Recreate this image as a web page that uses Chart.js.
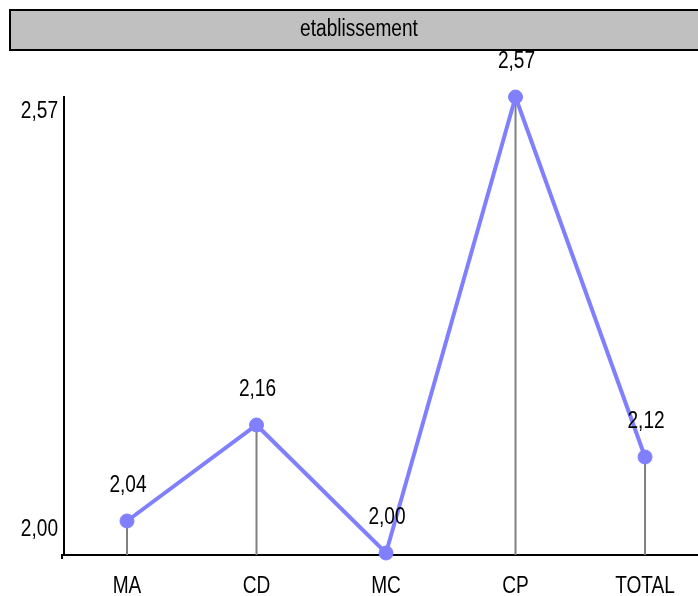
<!DOCTYPE html>
<html>
<head>
<meta charset="utf-8">
<script src="https://cdn.jsdelivr.net/npm/chart.js@4/dist/chart.umd.min.js"></script>
<style>
  html, body { margin: 0; padding: 0; background: #ffffff; }
  #wrap { width: 698px; height: 596px; position: relative; }
</style>
</head>
<body>
<div id="wrap"><canvas id="c" width="698" height="596"></canvas></div>
<script>
const titleText = "etablissement";
const categories = ["MA", "CD", "MC", "CP", "TOTAL"];
const values = [2.04, 2.16, 2.00, 2.57, 2.12];
const yTickValues = [2.00, 2.57];

const FONT = "23px 'Liberation Sans', Arial, sans-serif";
const SQUEEZE = 0.83;
const LINE_COLOR = "#8080ff";
const fmt = v => v.toFixed(2).replace(".", ",");

function drawText(ctx, text, x, y, align) {
  ctx.save();
  ctx.translate(x, y);
  ctx.scale(SQUEEZE, 1);
  ctx.font = FONT;
  ctx.fillStyle = "#000000";
  ctx.textAlign = align;
  ctx.textBaseline = "middle";
  ctx.fillText(text, 0, 0);
  ctx.restore();
}

const titlePlugin = {
  id: "titleBox",
  beforeDraw(chart) {
    const ctx = chart.ctx;
    ctx.save();
    ctx.fillStyle = "#c0c0c0";
    ctx.fillRect(10, 10, 700, 40);
    ctx.strokeStyle = "#000000";
    ctx.lineWidth = 2;
    ctx.strokeRect(10, 10, 700, 40);
    ctx.restore();
    drawText(ctx, titleText, 359, 30, "center");
  }
};

const dropLines = {
  id: "dropLines",
  beforeDatasetsDraw(chart) {
    const ctx = chart.ctx;
    const meta = chart.getDatasetMeta(0);
    const bottom = chart.chartArea.bottom;
    ctx.save();
    ctx.strokeStyle = "#808080";
    ctx.lineWidth = 2;
    meta.data.forEach(pt => {
      ctx.beginPath();
      ctx.moveTo(pt.x, pt.y);
      ctx.lineTo(pt.x, bottom);
      ctx.stroke();
    });
    ctx.restore();
  }
};

const valueLabels = {
  id: "valueLabels",
  afterDatasetsDraw(chart) {
    const meta = chart.getDatasetMeta(0);
    meta.data.forEach((pt, i) => {
      drawText(chart.ctx, fmt(values[i]), pt.x + 1, pt.y - 35, "center");
    });
  }
};

const axisLabels = {
  id: "axisLabels",
  afterDraw(chart) {
    const ctx = chart.ctx;
    const ys = chart.scales.y;
    const xs = chart.scales.x;
    const maxV = Math.max(...yTickValues);
    yTickValues.forEach(v => {
      const p = ys.getPixelForValue(v);
      const off = (v === maxV) ? 15 : -23;
      drawText(ctx, fmt(v), 58, p + off, "right");
    });
    categories.forEach((c, i) => {
      drawText(ctx, c, xs.getPixelForValue(i), chart.chartArea.bottom + 32, "center");
    });
    ctx.save();
    ctx.strokeStyle = "#000000";
    ctx.lineWidth = 2;
    ctx.beginPath();
    ctx.moveTo(61, chart.chartArea.bottom);
    ctx.lineTo(64, chart.chartArea.bottom);
    ctx.moveTo(62, chart.chartArea.bottom);
    ctx.lineTo(62, chart.chartArea.bottom + 4);
    ctx.stroke();
    ctx.restore();
  }
};

new Chart(document.getElementById("c"), {
  type: "line",
  data: {
    labels: categories,
    datasets: [{
      data: values.map((v, i) => ({ x: i, y: v })),
      borderColor: LINE_COLOR,
      backgroundColor: LINE_COLOR,
      borderWidth: 4,
      pointRadius: 7,
      pointBackgroundColor: LINE_COLOR,
      pointBorderColor: LINE_COLOR,
      pointBorderWidth: 1,
      tension: 0,
      clip: false
    }]
  },
  options: {
    responsive: false,
    animation: false,
    events: [],
    layout: { autoPadding: false, padding: { top: 97, left: 64, right: 0, bottom: 0 } },
    plugins: { legend: { display: false }, title: { display: false }, tooltip: { enabled: false } },
    scales: {
      x: {
        type: "linear",
        min: -0.4865,
        max: 4.409,
        grid: { display: false, drawTicks: false },
        border: { display: true, color: "#000000", width: 2 },
        afterFit: s => { s.height = 41; s.paddingLeft = 0; s.paddingRight = 0; },
        ticks: { display: false }
      },
      y: {
        type: "linear",
        min: 1.9975,
        max: 2.5700,
        grid: { display: false, drawTicks: false },
        border: { display: true, color: "#000000", width: 2 },
        afterFit: s => { s.width = 0; s.paddingTop = 0; s.paddingBottom = 0; },
        ticks: { display: false }
      }
    }
  },
  plugins: [titlePlugin, dropLines, valueLabels, axisLabels]
});
</script>
</body>
</html>
